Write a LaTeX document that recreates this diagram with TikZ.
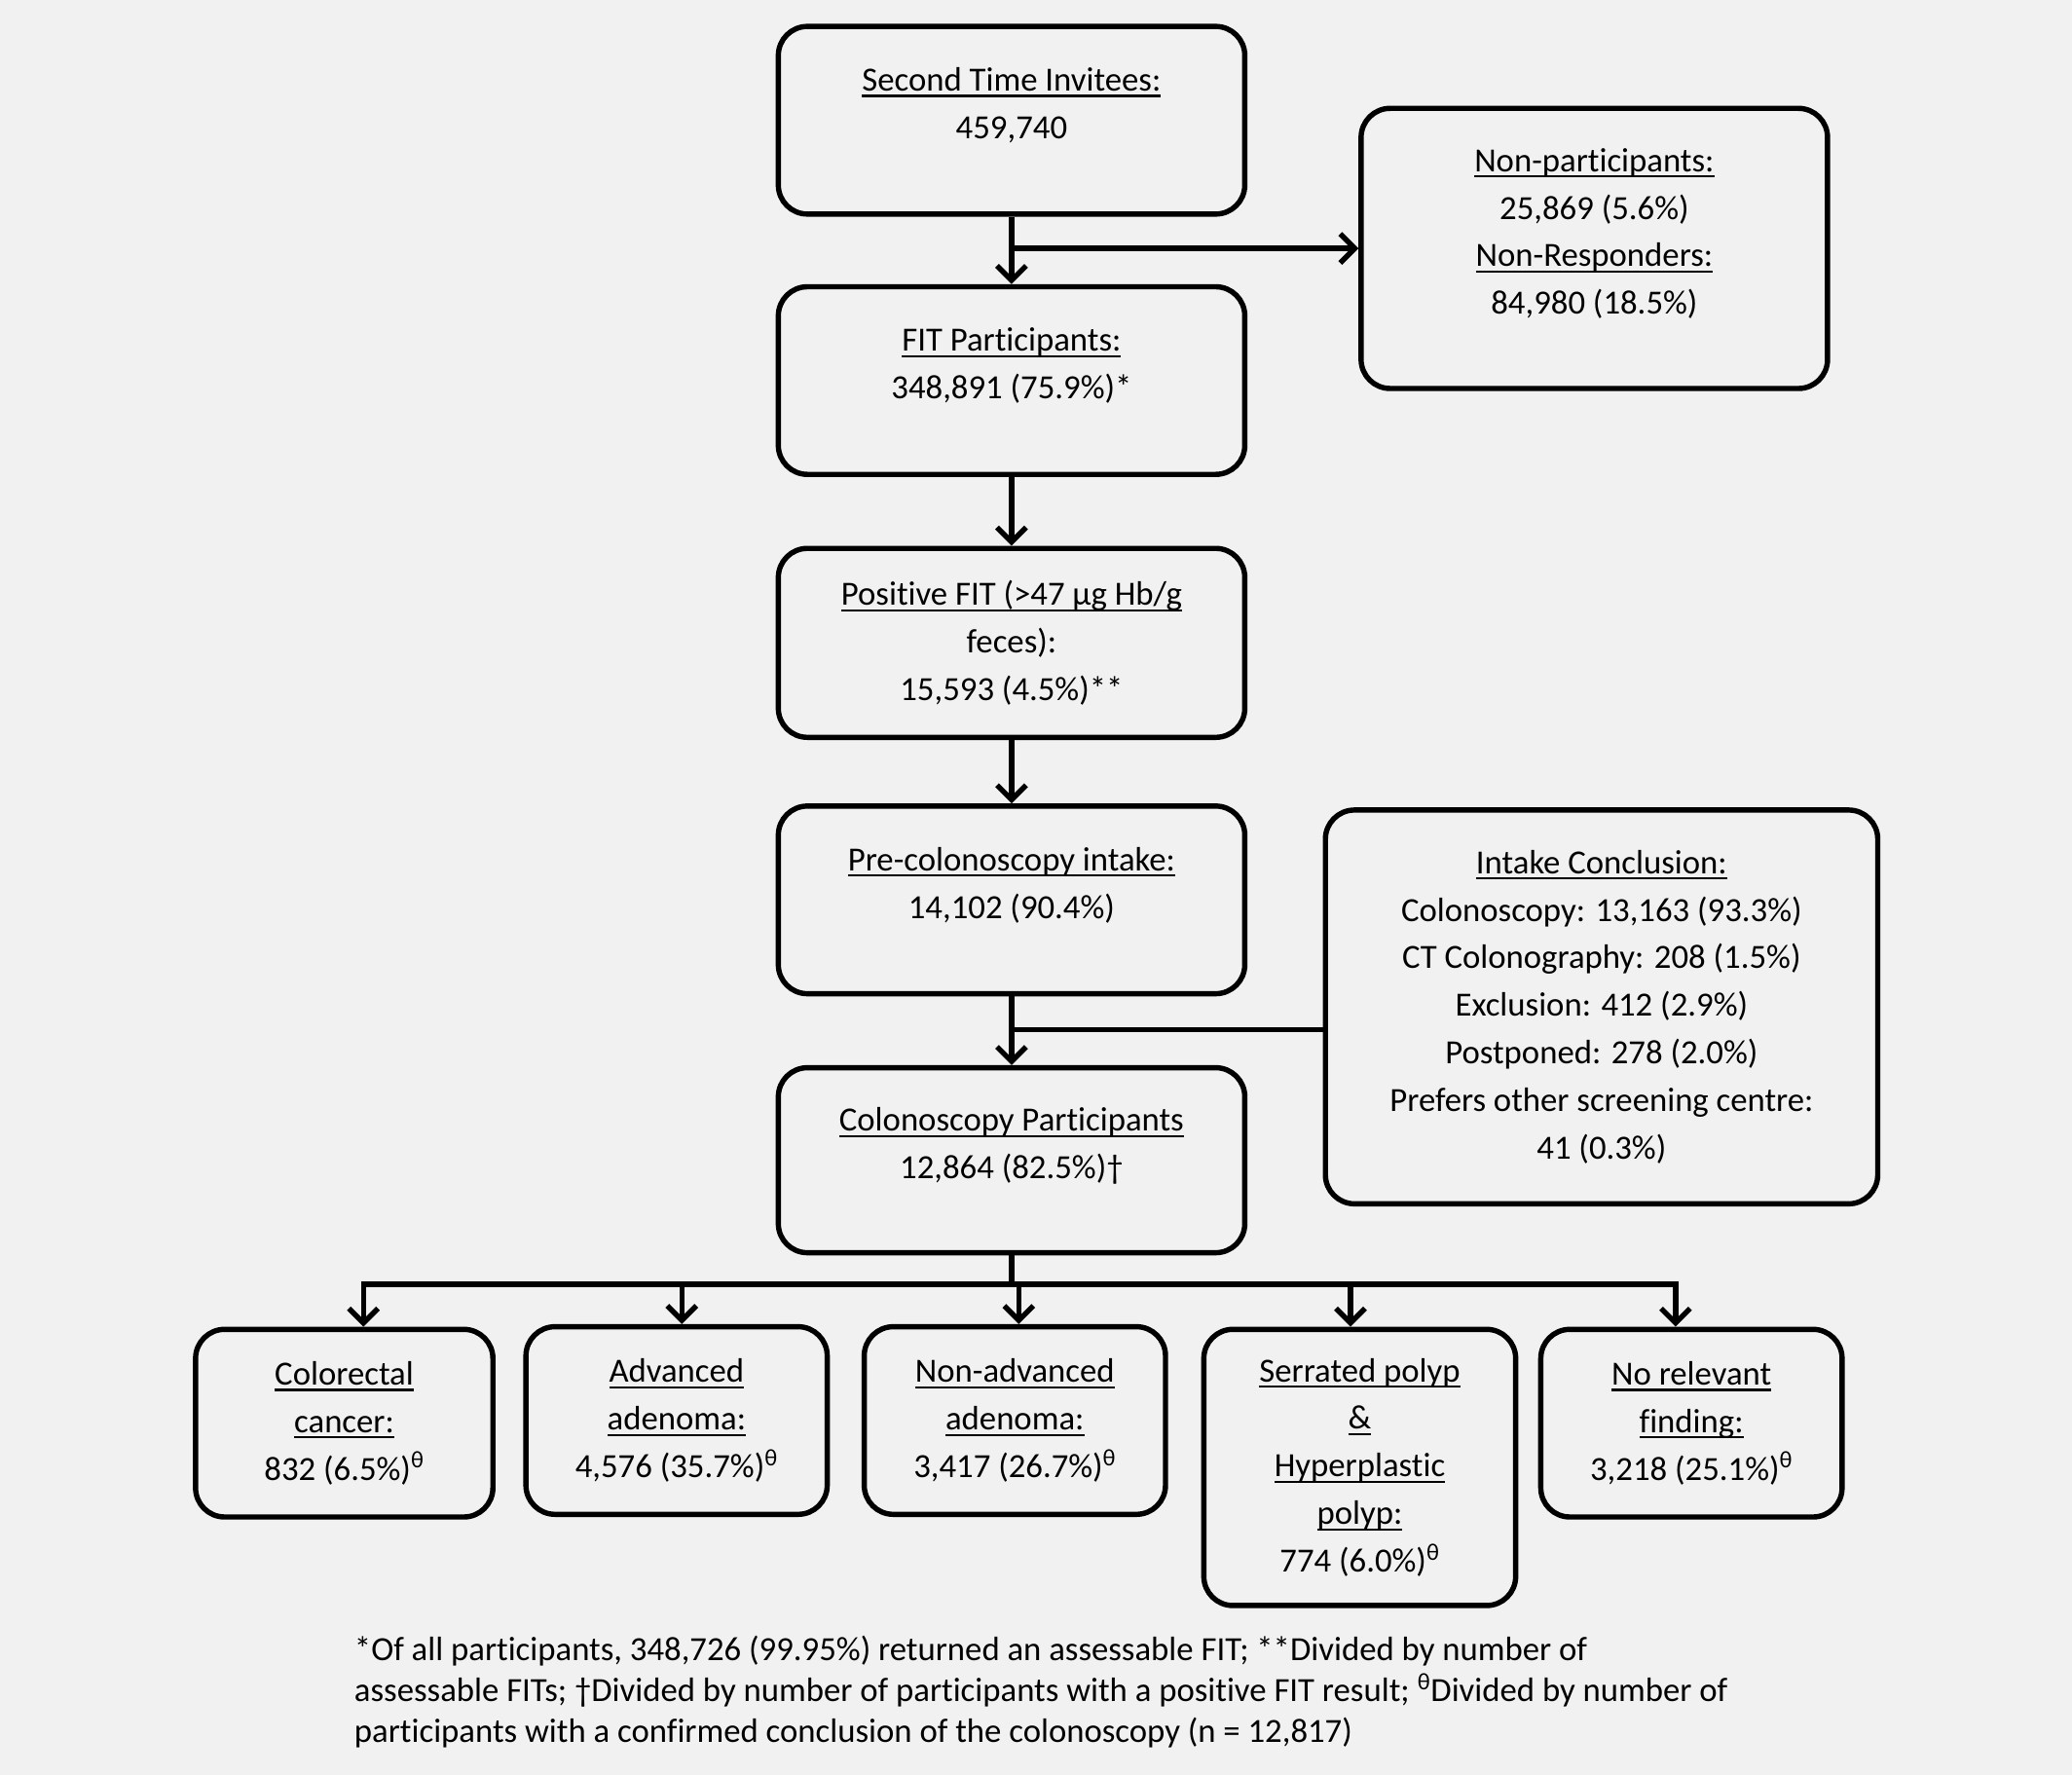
\documentclass[tikz,border=0pt]{standalone}
\usepackage{fontspec}
\setmainfont{Carlito}[Ligatures=NoCommon]
\usetikzlibrary{arrows.meta,calc}

\definecolor{bgcol}{gray}{0.945}
\tikzset{
	box/.style={draw, line width=4pt, rounded corners=22pt, align=center, inner sep=0pt,
		font=\fontsize{25.6}{36}\selectfont},
	link/.style={line width=4pt, line cap=rect},
	arr/.style={line width=4pt, -{Straight Barb[length=11pt,width=22pt]}},
}
\newcommand{\sth}{\textsuperscript{θ}}
\newcommand{\uln}[1]{\setbox0\hbox{#1}\rlap{\rule[-4.5pt]{\wd0}{1.6pt}}\box0}

\begin{document}
\begin{tikzpicture}[x=1pt,y=-1pt]
		\fill[bgcol] (0,0) rectangle (1568,1343);
		\useasboundingbox (0,0) rectangle (1568,1343);
		% main column
		\node[box, minimum width=353pt, minimum height=142pt] (inv) at (765.5,91) {\uln{Second Time Invitees:}\\459,740\\[-10pt]\mbox{}};
		\node[box, minimum width=353pt, minimum height=212pt] (non) at (1206.5,188) {\uln{Non-participants:}\\25,869 (5.6\%)\\\uln{Non-Responders:}\\84,980 (18.5\%)\\[-10pt]\mbox{}};
		\node[box, minimum width=353pt, minimum height=142pt] (fit) at (765.5,288) {\uln{FIT Participants:}\\348,891 (75.9\%)*\\[-10pt]\mbox{}};
		\node[box, minimum width=353pt, minimum height=143pt] (pos) at (765.5,486.5) {\uln{Positive FIT (>47 μg Hb/g}\\feces):\\15,593 (4.5\%)**};
		\node[box, minimum width=353pt, minimum height=142pt] (pre) at (765.5,681) {\uln{Pre-colonoscopy intake:}\\14,102 (90.4\%)\\[-10pt]\mbox{}};
		\node[box, minimum width=418pt, minimum height=298pt] (con) at (1212,762) {\uln{Intake Conclusion:}\\Colonoscopy: 13,163 (93.3\%)\\CT Colonography: 208 (1.5\%)\\Exclusion: 412 (2.9\%)\\Postponed: 278 (2.0\%)\\Prefers other screening centre:\\41 (0.3\%)};
		\node[box, minimum width=353pt, minimum height=140pt] (col) at (765.5,878) {\uln{Colonoscopy Participants}\\12,864 (82.5\%)†\\[-10pt]\mbox{}};
		% findings
		\node[box, minimum width=225pt, minimum height=142pt] (crc) at (260.5,1077) {\uln{Colorectal}\\\uln{cancer:}\\832 (6.5\%)\sth};
		\node[box, minimum width=228pt, minimum height=142pt] (aa) at (512,1075) {\uln{Advanced}\\\uln{adenoma:}\\4,576 (35.7\%)\sth};
		\node[box, minimum width=228pt, minimum height=142pt] (naa) at (768,1075) {\uln{Non-advanced}\\\uln{adenoma:}\\3,417 (26.7\%)\sth};
		\node[box, minimum width=236pt, minimum height=209pt] (sp) at (1029,1110.5) {\uln{Serrated polyp}\\\uln{\&}\\\uln{Hyperplastic}\\\uln{polyp:}\\774 (6.0\%)\sth};
		\node[box, minimum width=228pt, minimum height=142pt] (nrf) at (1280,1077) {\uln{No relevant}\\\uln{finding:}\\3,218 (25.1\%)\sth};
		\node[anchor=north west, align=left, inner sep=0pt, font=\fontsize{25.6}{31}\selectfont] (note) at (268,1238)
		{*Of all participants, 348,726 (99.95\%) returned an assessable FIT; **Divided by number of\\
		assessable FITs; †Divided by number of participants with a positive FIT result; \sth Divided by number of\\
		participants with a confirmed conclusion of the colonoscopy (n = 12,817)};

		\draw[arr] (inv) -- (fit);
		\draw[arr] (inv.south |- non.west) -- (non.west);
		\draw[arr] (fit) -- (pos);
		\draw[arr] (pos) -- (pre);
		\draw[arr] (pre) -- (col);
		\coordinate (conj) at ($(con.west)+(0,17)$);
		\draw[link] (conj) -- (conj -| pre.south);
		\foreach \x/\n in {275/crc,516/aa,771/naa,1022/sp,1268/nrf} {
			\coordinate (t-\n) at (\x,972);
			\draw[arr] (t-\n) -- (t-\n |- \n.north);
		}
		\draw[link] (t-crc) -- (t-nrf);
		\draw[link] (col.south) -- (col.south |- t-naa);
	\end{tikzpicture}
\end{document}
